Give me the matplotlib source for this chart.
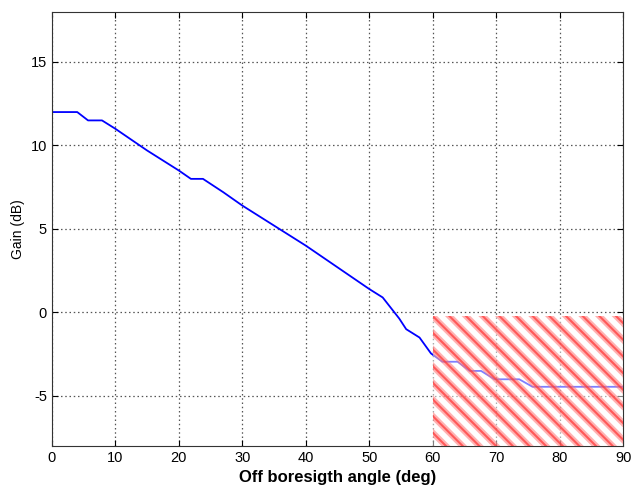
import matplotlib
matplotlib.use('Agg')
import matplotlib.pyplot as plt
from matplotlib.patches import Rectangle

plt.rcParams['font.family'] = ['Liberation Sans', 'DejaVu Sans']
plt.rcParams['axes.unicode_minus'] = False

# gain pattern
angle = [0, 4, 5.7, 7.9, 10, 15, 20, 21.9, 23.8, 27, 30, 35, 40, 45, 50,
         52.1, 54.7, 55.8, 57.9, 59.7, 61.5, 63.9, 65.8, 67.6, 69.7, 73.6,
         75.7, 90]
gain = [12, 12, 11.5, 11.5, 11.0, 9.7, 8.5, 8.0, 8.0, 7.2, 6.4, 5.2, 4.0,
        2.7, 1.4, 0.9, -0.36, -1.0, -1.5, -2.45, -2.95, -2.95, -3.5, -3.5,
        -4.0, -4.0, -4.45, -4.45]

# shaded region (deg, dB)
zone_x = [60, 90]
zone_y = [-8, -0.2]

fig = plt.figure(figsize=(6.4, 4.94), dpi=100)
ax = fig.add_axes([0.081, 0.097, 0.893, 0.879])

ax.plot(angle, gain, color='#0000ff', lw=1.3)

w = zone_x[1] - zone_x[0]
h = zone_y[1] - zone_y[0]
# white veil + two hatch layers (soft pink halo, red core)
plt.rcParams['hatch.linewidth'] = 4.5
halo = Rectangle((zone_x[0], zone_y[0]), w, h, facecolor=(1, 1, 1, 0.5),
                 edgecolor=(1, 0.45, 0.45, 0.55), hatch='\\\\', lw=0, zorder=3)
ax.add_patch(halo)
plt.rcParams['hatch.linewidth'] = 1.5
core = Rectangle((zone_x[0], zone_y[0]), w, h, facecolor='none',
                 edgecolor=(1, 0.2, 0.2, 0.7), hatch='\\\\', lw=0, zorder=3)
ax.add_patch(core)

ax.set_xlim(0, 90)
ax.set_ylim(-8, 18)
ax.set_xticks(range(0, 91, 10))
ax.set_yticks([-5, 0, 5, 10, 15])
ax.grid(True, linestyle=(0, (1.2, 2.2)), color='#555555', lw=0.9)
ax.tick_params(direction='in', length=4, labelsize=10.5, top=True, right=True)
for s in ax.spines.values():
    s.set_color('#333333')

ax.set_xlabel('Off boresigth angle (deg)', fontsize=12, fontweight='bold')
ax.set_ylabel('Gain (dB)', fontsize=10)

fig.savefig('out.png', dpi=100)
